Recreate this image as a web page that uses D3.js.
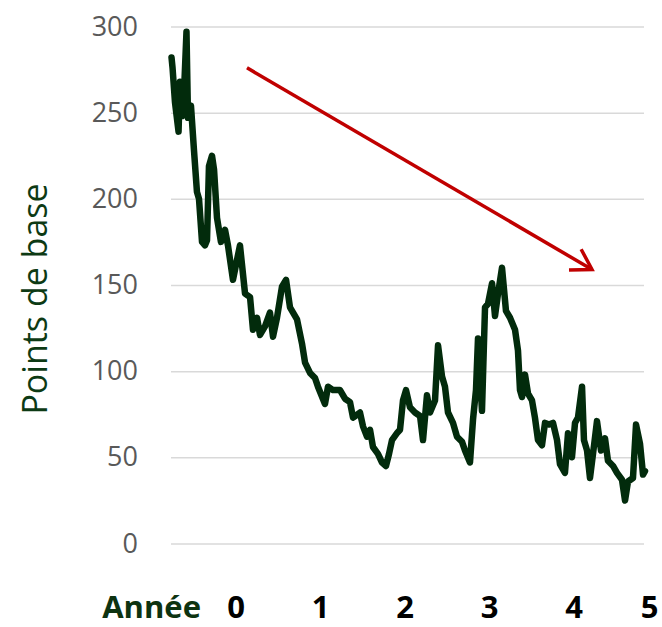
<!DOCTYPE html>
<html lang="fr">
<head>
    <meta charset="utf-8">
    <title>Points de base</title>
    <script src="https://d3js.org/d3.v7.min.js" charset="utf-8"></script>
    <style>
        body { margin: 0; background: #fff; }
        svg { display: block; }
    </style>
</head>
<body>

    <script>

    // temps en années (0 = année 0) et niveau en points de base
    var years = [-0.763,-0.751,-0.722,-0.680,-0.663,-0.639,-0.615,-0.586,-0.568,-0.533,-0.497,-0.462,-0.438,-0.402,-0.367,-0.343,-0.320,-0.284,-0.260,-0.225,-0.178,-0.130,-0.095,-0.036,
        0.047,0.107,0.166,0.201,0.249,0.284,0.343,0.402,0.438,0.485,0.544,0.592,0.639,0.722,0.781,0.817,0.876,0.935,0.970,
        1.053,1.089,1.148,1.231,1.290,1.349,1.385,1.467,1.503,1.550,1.586,1.621,1.680,1.728,1.775,1.811,1.846,1.905,1.941,1.976,
        2.012,2.059,2.118,2.178,2.213,2.260,2.296,2.355,2.391,2.438,2.473,2.509,2.568,2.615,2.675,2.710,2.769,2.805,2.840,2.864,2.911,2.947,2.982,
        3.030,3.065,3.101,3.148,3.195,3.243,3.302,3.337,3.361,3.385,3.420,3.456,3.503,3.538,3.574,3.621,3.657,3.704,3.751,3.799,3.834,3.893,3.929,3.976,
        4.012,4.047,4.095,4.118,4.154,4.189,4.225,4.272,4.320,4.367,4.402,4.462,4.509,4.568,4.604,4.639,4.698,4.734,4.781,4.817,4.840]
    var spread = [282,276,256,239,268,248,262,297,247,254,228,204,200,175,173,176,219,225,217,189,175,182,173,153,
        173,145,143,124,131,121,126,134,120,131,149,153,137,130,116,105,99,96,91,
        81,91,89,89,84,82,73,76,68,62,66,56,52,47,45,52,60,64,66,83,
        89,79,76,74,60,86,76,83,115,97,91,76,70,62,59,54,47,72,89,119,77,137,139,
        151,132,145,160,135,131,124,112,89,85,98,87,83,73,60,57,70,69,70,60,46,41,64,50,
        70,73,91,60,54,38,52,71,54,61,48,45,41,37,25,36,38,69,58,40,42]

    var yTicks = [0, 50, 100, 150, 200, 250, 300]
    var xLabels = ["0", "1", "2", "3", "4", "5"]
    var trend = [[0.13, 276], [4.213, 159]]

    var w = 662, h = 627
    var left = 171, right = 644

    var svg = d3.select("body").append("svg").attr("width", w).attr("height", h)

    var x = d3.scaleLinear().domain([0, 5]).range([236, 658.5])
    var y = d3.scaleLinear().domain([0, 300]).range([543.5, 26.5])

    // grille + libellés de l'axe vertical
    var yAxis = svg.append("g").attr("transform", "translate(" + left + ",0)")
        .call(d3.axisLeft(y).tickValues(yTicks).tickSize(-(right - left)).tickPadding(33))
    yAxis.select(".domain").remove()
    yAxis.selectAll("line").attr("stroke", "#d9d9d9").attr("stroke-width", 1.5)
    yAxis.selectAll("text").attr("font-family", "Open Sans").attr("font-size", 27).attr("fill", "#595959")

    svg.append("text")
        .attr("transform", "translate(47,299) rotate(-90)")
        .attr("text-anchor", "middle")
        .attr("font-family", "Open Sans").attr("font-size", 34).attr("fill", "#0d3a14")
        .text("Points de base")

    // axe des années
    svg.append("text").attr("x", 201).attr("y", 618).attr("text-anchor", "end")
        .attr("font-family", "Open Sans").attr("font-weight", "bold").attr("font-size", 31)
        .attr("fill", "#0d3311").text("Année")

    svg.selectAll(".xl").data(xLabels).enter().append("text")
        .attr("class", "xl")
        .attr("x", function (d, i) { return x(i) })
        .attr("y", 618)
        .attr("text-anchor", function (d, i) { return i == xLabels.length - 1 ? "end" : "middle" })
        .attr("font-family", "Open Sans").attr("font-weight", "bold").attr("font-size", 31)
        .attr("fill", "#000").text(function (d) { return d })

    // série
    var line = d3.line()
        .x(function (d, i) { return x(years[i]) })
        .y(function (d) { return y(d) })

    svg.append("path").datum(spread).attr("d", line)
        .attr("fill", "none").attr("stroke", "#022b0c").attr("stroke-width", 6.5)
        .attr("stroke-linejoin", "round").attr("stroke-linecap", "round")

    // flèche de tendance
    var x1 = x(trend[0][0]), y1 = y(trend[0][1]), x2 = x(trend[1][0]), y2 = y(trend[1][1])
    var ang = Math.atan2(y2 - y1, x2 - x1), len = 23, spr = 0.55
    svg.append("line").attr("x1", x1).attr("y1", y1).attr("x2", x2).attr("y2", y2)
        .attr("stroke", "#c00000").attr("stroke-width", 3.5)
    svg.append("path")
        .attr("d", "M" + (x2 - len * Math.cos(ang - spr)) + "," + (y2 - len * Math.sin(ang - spr)) +
            "L" + x2 + "," + y2 +
            "L" + (x2 - len * Math.cos(ang + spr)) + "," + (y2 - len * Math.sin(ang + spr)))
        .attr("fill", "none").attr("stroke", "#c00000").attr("stroke-width", 3.5)

    </script>

</body>
</html>
